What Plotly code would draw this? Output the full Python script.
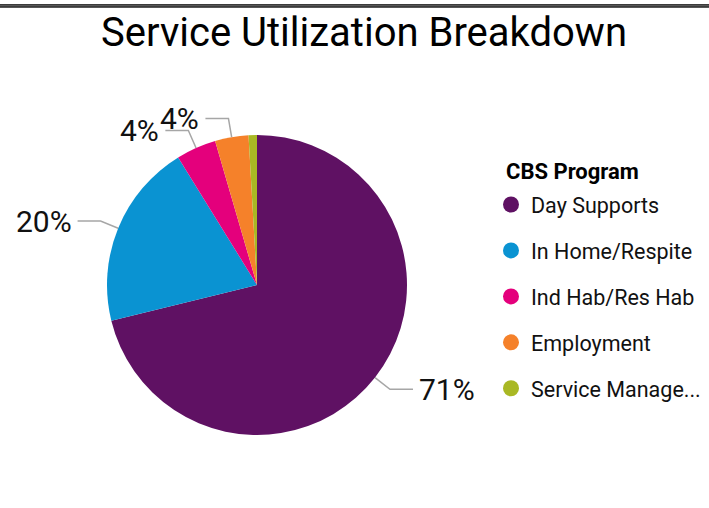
import math
import plotly.graph_objects as go

W, H = 709, 508
FONT = "Roboto"

programs = ["Day Supports", "In Home/Respite", "Ind Hab/Res Hab", "Employment", "Service Manage..."]
shares = [71.1, 20.0, 4.3, 3.6, 0.9]
colors = ["#5F1163", "#0A93D2", "#E4007C", "#F5812A", "#A9B824"]

# pie geometry in pixels
cx, cy, r = 257, 285, 150


def px(x):
    return x / W


def py(y):
    return 1 - y / H


fig = go.Figure()

fig.add_trace(go.Pie(
    labels=programs,
    values=shares,
    sort=False,
    direction="clockwise",
    rotation=0,
    textinfo="none",
    hoverinfo="label+percent",
    marker=dict(colors=colors, line=dict(width=0)),
    domain=dict(x=[px(cx - r), px(cx + r)], y=[py(cy + r), py(cy - r)]),
    showlegend=False,
))

# legend entries with round markers
for name, col in zip(programs, colors):
    fig.add_trace(go.Scatter(
        x=[None], y=[None], mode="markers", name=name, legendgroup=name,
        marker=dict(color=col, size=16, symbol="circle"),
    ))

# outside labels with leader lines, placed from the slice mid-angles
total = sum(shares)
start = 0
shapes = []
annotations = []
for v in shares:
    mid = (start + v / 2) / total * 2 * math.pi
    start += v
    pct = round(v / total * 100)
    if v / total < 0.02:
        continue
    sx, sy = math.sin(mid), -math.cos(mid)
    x0, y0 = cx + r * sx, cy + r * sy
    x1, y1 = cx + (r + 19) * sx, cy + (r + 19) * sy
    side = 1 if sx >= 0 else -1
    x2 = x1 + side * 23
    shapes.append(dict(
        type="path", xref="paper", yref="paper",
        path=f"M {px(x0)} {py(y0)} L {px(x1)} {py(y1)} L {px(x2)} {py(y1)}",
        line=dict(color="#A6A6A6", width=1.5),
    ))
    annotations.append(dict(
        x=px(x2 + side * 4), y=py(y1), xref="paper", yref="paper",
        text=f"{pct}%", showarrow=False,
        xanchor="left" if side > 0 else "right", yanchor="middle",
        font=dict(family=FONT, size=30, color="#111111"),
    ))

# top frame: double rule
shapes.append(dict(type="rect", xref="paper", yref="paper",
                   x0=0, x1=1, y0=py(8), y1=py(4),
                   fillcolor="#8c8c8c", line=dict(width=0)))
for yy in (4.8, 6.8):
    shapes.append(dict(type="line", xref="paper", yref="paper",
                       x0=0, x1=1, y0=py(yy), y1=py(yy),
                       line=dict(color="#222222", width=1.2)))

annotations.append(dict(
    x=px(504), y=py(171), xref="paper", yref="paper",
    text="<b>CBS Program</b>", showarrow=False,
    xanchor="left", yanchor="middle",
    font=dict(family=FONT, size=22, color="#000000"),
))

fig.update_layout(
    width=W, height=H,
    margin=dict(l=0, r=0, t=0, b=0),
    paper_bgcolor="white", plot_bgcolor="white",
    title=dict(
        text="Service Utilization Breakdown",
        x=px(364), xanchor="center", y=py(32), yanchor="middle",
        font=dict(family=FONT, size=40, color="#000000"),
    ),
    xaxis=dict(visible=False),
    yaxis=dict(visible=False),
    legend=dict(
        x=px(491), y=py(184), xanchor="left", yanchor="top",
        font=dict(family=FONT, size=21.5, color="#111111"),
        tracegroupgap=15,
        bgcolor="rgba(0,0,0,0)",
    ),
    shapes=shapes,
    annotations=annotations,
)

fig.write_html(
    "out.html", config={"displayModeBar": False},
    post_script=(
        "document.head.insertAdjacentHTML('beforeend',"
        "'<style>html,body{margin:0;padding:0;overflow:hidden}</style>');"
    ),
)
